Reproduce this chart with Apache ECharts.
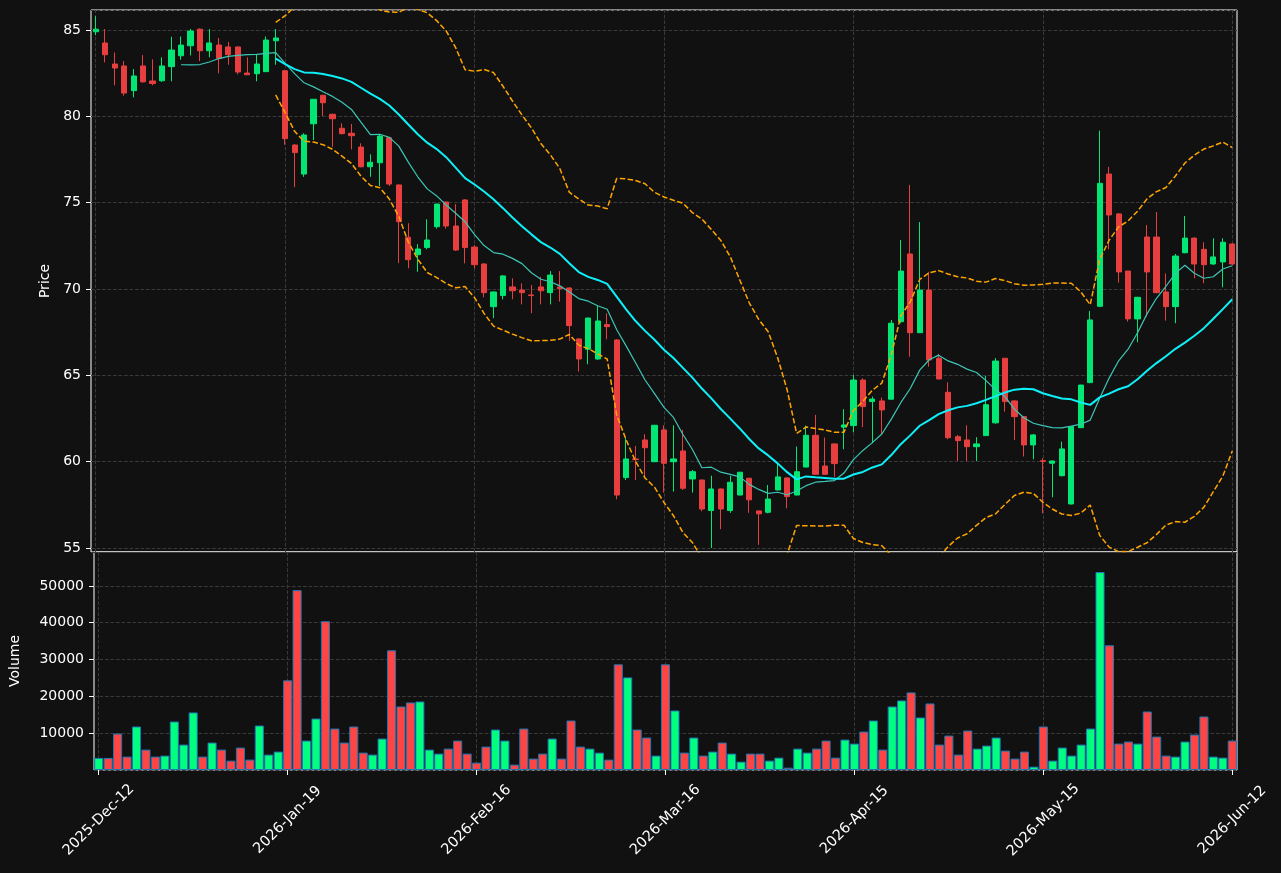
<!DOCTYPE html>
<html><head><meta charset="utf-8">
<script src="https://cdn.jsdelivr.net/npm/echarts@6.0.0/dist/echarts.min.js"></script>
<style>html,body{margin:0;padding:0;background:#111111;}#c{width:1281px;height:873px;}</style>
</head><body><div id="c"></div><script>
// ---- data ----
const tickLabels = ['2025-Dec-12','2026-Jan-19','2026-Feb-16','2026-Mar-16','2026-Apr-15','2026-May-15','2026-Jun-12'];
const tickStep = 20;
const opens = [84.9,84.25,83.03,82.92,81.49,82.92,82.05,82.06,82.88,83.51,84.09,85.05,83.8,84.13,84.02,84.02,82.51,82.47,82.59,84.38,
82.64,78.34,76.66,79.57,81.22,80.12,79.31,79.02,78.22,77.08,77.31,78.76,76.03,73.0,71.99,72.4,73.61,75.04,73.65,75.16,
72.43,71.45,68.98,69.62,70.12,69.94,69.66,70.12,69.79,70.12,70.06,67.11,66.51,65.95,67.94,67.05,59.08,60.16,61.26,60.0,
61.84,60.0,60.62,59.0,58.94,57.17,58.42,57.17,58.07,59.04,57.15,57.07,58.36,59.06,58.07,59.69,61.53,59.75,61.03,62.0,
62.09,64.73,63.48,63.52,63.62,68.11,72.03,67.47,69.94,65.99,64.02,61.45,61.26,60.87,61.51,62.25,65.99,63.52,62.61,60.97,
60.06,59.91,59.19,57.55,61.97,64.58,69.0,76.66,74.35,71.04,68.27,73.01,73.01,69.83,68.98,72.1,72.95,72.3,71.45,71.57,72.61];
const closes = [85.05,83.57,82.8,81.35,82.34,82.0,81.9,82.92,83.84,84.13,84.94,83.8,84.25,83.36,83.57,82.57,82.41,83.03,84.42,84.54,
78.71,77.9,78.92,80.99,80.79,79.86,79.0,78.88,77.08,77.34,78.86,76.08,73.9,71.7,72.32,72.84,74.92,73.65,72.26,72.4,
71.41,69.79,69.83,70.76,69.9,69.79,69.62,69.9,70.81,70.02,67.88,65.95,68.32,68.15,67.82,58.07,60.16,60.12,60.81,62.11,
59.91,60.16,58.46,59.42,57.26,58.42,57.26,58.81,59.39,57.79,56.98,57.84,59.12,57.98,59.42,61.53,59.27,59.27,59.89,62.13,
64.73,63.19,63.63,63.0,68.02,71.04,67.47,69.94,65.89,64.79,61.39,61.22,60.87,61.03,63.3,65.83,63.48,62.61,60.97,61.55,
60.02,60.04,60.74,62.03,64.44,68.21,76.12,74.29,70.99,68.27,69.52,70.99,69.79,68.98,71.91,72.95,71.45,71.41,71.86,72.71,71.45];
const lows = [84.7,83.13,81.8,81.2,81.1,81.95,81.8,82.0,82.03,83.28,83.53,83.2,83.42,82.49,82.99,82.43,82.4,82.03,82.59,82.99,
78.36,75.9,76.5,78.63,80.02,78.24,78.95,78.09,77.05,76.5,75.97,75.97,71.5,71.2,71.0,72.3,73.5,73.5,72.2,71.49,
71.2,69.52,68.31,69.4,69.41,69.11,68.6,69.11,69.11,69.27,67.0,65.22,65.64,65.9,67.09,57.82,58.94,58.94,59.04,59.98,
58.21,58.27,58.36,58.21,57.13,55.0,56.09,57.04,58.05,57.04,55.18,57.01,58.35,57.3,58.05,59.67,59.25,59.25,59.13,60.72,
61.7,62.0,61.07,61.55,63.6,68.02,66.08,67.45,65.5,64.77,61.3,60.04,60.04,60.04,61.5,62.2,62.9,61.26,60.3,60.14,
57.0,57.94,59.15,57.53,61.95,64.55,68.95,72.3,70.37,68.11,66.92,68.4,69.75,68.17,68.02,72.08,70.62,70.33,71.4,70.1,71.4];
const highs = [85.8,85.06,83.7,83.2,82.74,83.55,83.3,83.42,84.61,84.63,85.06,85.1,85.06,84.54,84.31,84.05,83.42,83.61,84.63,85.06,
82.7,78.4,79.02,81.0,81.25,80.15,79.6,79.56,78.44,77.8,78.92,78.8,76.05,73.81,72.6,74.04,74.95,75.05,74.92,75.2,
72.55,71.5,69.85,70.8,70.62,70.33,70.23,70.71,71.04,71.04,70.1,67.15,68.35,69.03,68.59,67.1,61.36,60.91,61.59,62.12,
62.11,62.11,61.84,59.52,58.96,59.19,58.45,59.19,59.4,59.06,57.17,58.65,59.91,59.08,60.88,62.09,62.71,61.4,61.05,63.04,
65.02,64.83,63.77,63.71,68.21,72.84,76.03,73.88,71.0,66.24,64.6,61.55,62.11,61.42,64.98,66.0,66.0,63.55,62.65,61.61,
60.2,60.06,61.16,62.05,64.45,68.73,79.17,77.08,74.4,71.05,69.55,73.71,74.46,70.9,72.03,74.23,72.99,72.71,72.94,72.94,72.65];
const volumes = [3280,3280,9900,3640,11810,5540,3640,3910,13170,6900,15630,3640,7450,5540,2550,6090,2820,12080,4180,5000,
24340,48850,7990,13980,40410,11260,7450,11810,4720,4180,8540,32510,17250,18340,18610,5540,4450,5810,7990,4450,
2000,6360,10990,7990,1460,11260,3100,4450,8540,3100,13440,6360,5810,4720,2820,28700,25150,10990,8810,3910,
28700,16160,4720,8810,3910,5000,7450,4450,2270,4450,4450,2550,3360,640,5810,4720,5810,7990,3360,8260,
7170,10440,13440,5540,17250,18890,21070,14260,18070,6900,9350,4180,10710,5810,6630,8810,5270,3100,5000,910,
11810,2550,6090,3910,6900,11260,53750,33870,7170,7720,7170,15890,9080,3910,3640,7720,9620,14530,3640,3360,7990];

// ---- indicators derived from the closes (MA10, MA20, Bollinger 20/2) ----
function rollingMean(arr, w) {
  return arr.map((_, i) => {
    if (i < w - 1) return null;
    let s = 0; for (let k = i - w + 1; k <= i; k++) s += arr[k];
    return +(s / w).toFixed(4);
  });
}
function rollingStd(arr, w, mean) {
  return arr.map((_, i) => {
    if (i < w - 1) return null;
    let s = 0; for (let k = i - w + 1; k <= i; k++) s += (arr[k] - mean[i]) ** 2;
    return Math.sqrt(s / (w - 1));
  });
}
const ma10 = rollingMean(closes, 10);
const ma20 = rollingMean(closes, 20);
const sd20 = rollingStd(closes, 20, ma20);
const bbUpper = ma20.map((m, i) => m === null ? null : +(m + 2 * sd20[i]).toFixed(4));
const bbLower = ma20.map((m, i) => m === null ? null : +(m - 2 * sd20[i]).toFixed(4));

const categories = closes.map((_, i) => String(i));
const candleData = closes.map((c, i) => [opens[i], c, lows[i], highs[i]]);
const UP = '#02e774', DOWN = '#e73f3f';
const volData = volumes.map((v, i) => ({ value: v, itemStyle: { color: closes[i] >= opens[i] ? '#00ff7f' : '#ff4444' } }));
const tickIdx = tickLabels.map((_, k) => k * tickStep);
const emptyData = closes.map(() => null);

const FONT = 'DejaVu Sans';
const GRID_C = '#393939', GRID_DASH = [3.7, 1.8];
const gridLine = { show: true, lineStyle: { color: GRID_C, type: GRID_DASH, width: 1 } };
const vMark = {
  silent: true, symbol: 'none', label: { show: false }, z: 1,
  lineStyle: { color: GRID_C, type: GRID_DASH, width: 1 },
  data: tickIdx.map(i => ({ xAxis: i }))
};

const chart = echarts.init(document.getElementById('c'), null, { renderer: 'canvas' });
chart.setOption({
  backgroundColor: '#111111',
  animation: false,
  grid: [
    { left: 91, right: 44, top: 10, height: 542, show: true, borderColor: '#ffffff', borderWidth: 1, backgroundColor: 'transparent' },
    { left: 91, right: 44, top: 552, height: 218, show: true, borderColor: '#ffffff', borderWidth: 1, backgroundColor: 'transparent' }
  ],
  xAxis: [
    { type: 'category', gridIndex: 0, data: categories, axisLine: { show: false }, axisTick: { show: false },
      axisLabel: { show: false }, splitLine: { show: false } },
    { type: 'category', gridIndex: 1, data: categories, axisLine: { show: false },
      axisTick: { show: true, alignWithLabel: true, length: 5, lineStyle: { color: '#ffffff' }, interval: (i) => i % tickStep === 0 },
      axisLabel: { show: true, interval: (i) => i % tickStep === 0, rotate: 45, align: 'center', verticalAlign: 'middle',
        color: '#ffffff', fontSize: 14.5, fontFamily: FONT, margin: 50,
        formatter: (v, i) => tickLabels[i / tickStep] || '' },
      splitLine: { show: false } }
  ],
  yAxis: [
    { type: 'value', gridIndex: 0, min: 54.77, max: 86.16, scale: true,
      name: 'Price', nameLocation: 'middle', nameGap: 37, nameTextStyle: { color: '#ffffff', fontSize: 14, fontFamily: FONT },
      axisLine: { show: false }, axisTick: { show: true, length: 5, lineStyle: { color: '#ffffff' } },
      axisLabel: { color: '#ffffff', fontSize: 14, fontFamily: FONT, margin: 10, showMinLabel: false, showMaxLabel: false },
      splitLine: gridLine },
    { type: 'value', gridIndex: 1, min: 0, max: 59200,
      name: 'Volume', nameLocation: 'middle', nameGap: 72, nameTextStyle: { color: '#ffffff', fontSize: 14, fontFamily: FONT },
      axisLine: { show: false }, axisTick: { show: true, length: 5, lineStyle: { color: '#ffffff' } },
      axisLabel: { color: '#ffffff', fontSize: 14, fontFamily: FONT, margin: 10, showMinLabel: false, showMaxLabel: false,
        formatter: (v) => String(v) },
      splitLine: gridLine }
  ],
  series: [
    { type: 'line', xAxisIndex: 0, yAxisIndex: 0, data: emptyData, showSymbol: false, silent: true, markLine: vMark, z: 0 },
    { type: 'line', xAxisIndex: 1, yAxisIndex: 1, data: emptyData, showSymbol: false, silent: true, markLine: vMark, z: 0 },
    { type: 'candlestick', xAxisIndex: 0, yAxisIndex: 0, data: candleData, barWidth: '60%',
      itemStyle: { color: UP, color0: DOWN, borderColor: UP, borderColor0: DOWN, borderColorDoji: DOWN, borderWidth: 1 }, z: 2 },
    { type: 'line', xAxisIndex: 0, yAxisIndex: 0, data: ma10, showSymbol: false,
      lineStyle: { color: '#3cc6b6', width: 1.2 }, z: 3 },
    { type: 'line', xAxisIndex: 0, yAxisIndex: 0, data: ma20, showSymbol: false,
      lineStyle: { color: '#0ef0f8', width: 2 }, z: 3 },
    { type: 'line', xAxisIndex: 0, yAxisIndex: 0, data: bbUpper, showSymbol: false,
      lineStyle: { color: '#ffa500', width: 1.5, type: [5.5, 2.4] }, z: 3 },
    { type: 'line', xAxisIndex: 0, yAxisIndex: 0, data: bbLower, showSymbol: false,
      lineStyle: { color: '#ffa500', width: 1.5, type: [5.5, 2.4] }, z: 3 },
    { type: 'bar', xAxisIndex: 1, yAxisIndex: 1, data: volData, barCategoryGap: '4%',
      itemStyle: { borderColor: '#1f77b4', borderWidth: 1 }, z: 2 }
  ]
});
</script></body></html>
